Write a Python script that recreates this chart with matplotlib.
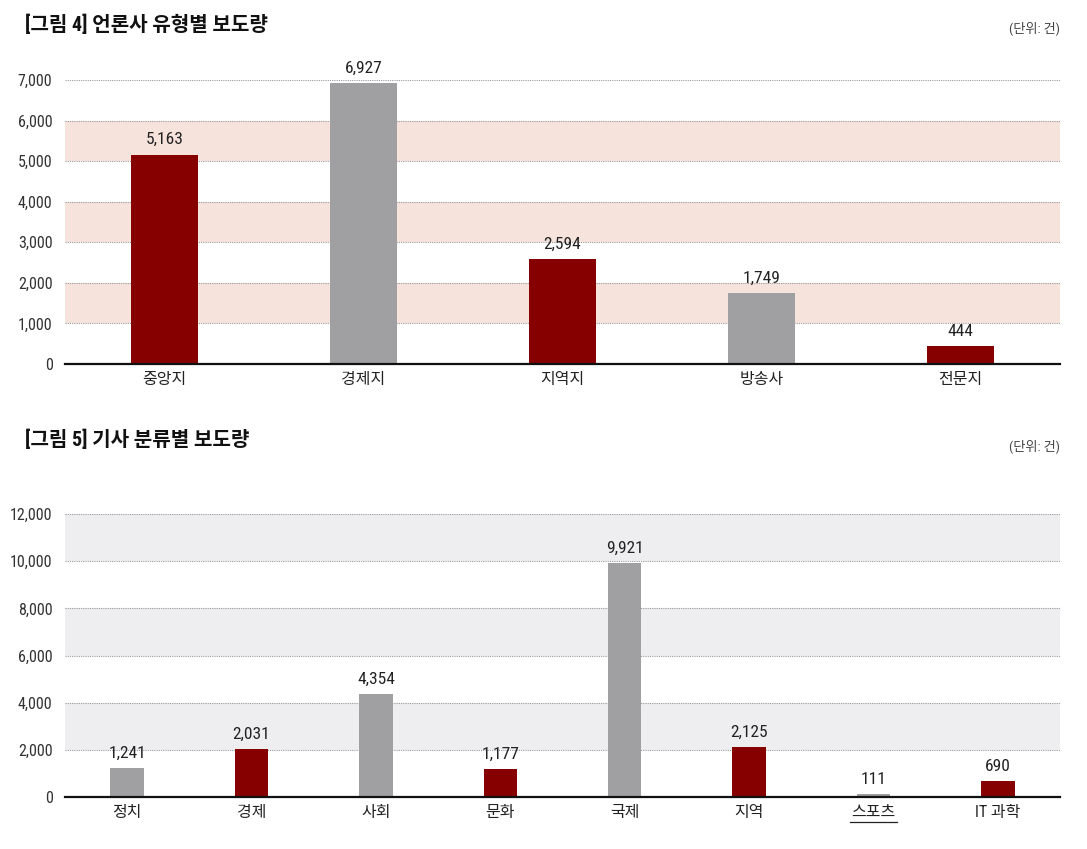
import matplotlib
matplotlib.use('Agg')
import matplotlib.pyplot as plt
from matplotlib import font_manager as fm
from matplotlib.ticker import FuncFormatter

names = set(f.name for f in fm.fontManager.ttflist)
num_font = [f for f in ['Liberation Sans Narrow', 'Roboto Condensed', 'Noto Sans CJK KR'] if f in names]
plt.rcParams['font.family'] = num_font + ['Noto Sans CJK KR', 'DejaVu Sans']

# data
media_types = ['중앙지', '경제지', '지역지', '방송사', '전문지']
media_counts = [5163, 6927, 2594, 1749, 444]
media_colors = ['red', 'gray', 'red', 'gray', 'red']

topics = ['정치', '경제', '사회', '문화', '국제', '지역', '스포츠', 'IT 과학']
topic_counts = [1241, 2031, 4354, 1177, 9921, 2125, 111, 690]
topic_colors = ['gray', 'red', 'gray', 'red', 'gray', 'red', 'gray', 'red']

RED = '#870000'
GRAY = '#a0a0a2'
cmap = {'red': RED, 'gray': GRAY}

fig = plt.figure(figsize=(10.87, 8.49), dpi=100)
W, H = 1087, 849

def style_axes(ax, ymax, step, bands, band_color):
    ax.set_ylim(0, ymax)
    for lo, hi in bands:
        ax.axhspan(lo, hi, color=band_color, zorder=0, lw=0)
    for v in range(step, ymax + 1, step):
        ax.axhline(v, color='#9a9a9a', lw=0.8, ls=(0, (1, 1)), zorder=1)
    for s in ['top', 'left', 'right']:
        ax.spines[s].set_visible(False)
    ax.spines['bottom'].set_linewidth(1.6)
    ax.spines['bottom'].set_color('#111111')
    ax.spines['bottom'].set_zorder(5)
    ax.set_yticks(range(0, ymax + 1, step))
    ax.yaxis.set_major_formatter(FuncFormatter(lambda v, p: f'{int(v):,}'))
    ax.tick_params(axis='y', length=0, pad=9, labelsize=11.5, labelcolor='#333333')
    ax.tick_params(axis='x', length=0, pad=6, labelsize=11.5, labelcolor='#222222')

# top chart
ax1 = fig.add_axes([65 / W, (H - 364) / H, 995 / W, 284 / H])
x1 = range(len(media_types))
ax1.bar(x1, media_counts, width=0.34, color=[cmap[c] for c in media_colors], zorder=3)
ax1.set_xlim(-0.5, len(media_types) - 0.5)
style_axes(ax1, 7000, 1000, [(1000, 2000), (3000, 4000), (5000, 6000)], '#f6e3dc')
ax1.set_xticks(list(x1))
ax1.set_xticklabels(media_types)
for i, v in enumerate(media_counts):
    ax1.text(i, v + 180, f'{v:,}', ha='center', va='bottom', fontsize=12.5,
             color='#222222', clip_on=False)

# bottom chart
ax2 = fig.add_axes([65 / W, (H - 797) / H, 995 / W, 283 / H])
x2 = range(len(topics))
ax2.bar(x2, topic_counts, width=0.27, color=[cmap[c] for c in topic_colors], zorder=3)
ax2.set_xlim(-0.5, len(topics) - 0.5)
style_axes(ax2, 12000, 2000, [(2000, 4000), (6000, 8000), (10000, 12000)], '#eeeef0')
ax2.set_xticks(list(x2))
ax2.set_xticklabels(topics)
for i, v in enumerate(topic_counts):
    ax2.text(i, v + 300, f'{v:,}', ha='center', va='bottom', fontsize=12.5,
             color='#222222', clip_on=False)
# underline under the sports label
k = topics.index('스포츠')
ax2.plot([k - 0.19, k + 0.19], [-0.09, -0.09], color='#222222', lw=0.9,
         transform=ax2.get_xaxis_transform(), clip_on=False)

# titles
fig.text(25 / W, 1 - 25 / H, '[그림 4] 언론사 유형별 보도량', fontsize=14.5,
         fontweight='bold', color='#111111', va='center', ha='left')
fig.text(1060 / W, 1 - 28 / H, '(단위: 건)', fontsize=9.5, color='#444444',
         va='center', ha='right')
fig.text(25 / W, 1 - 440 / H, '[그림 5] 기사 분류별 보도량', fontsize=14.5,
         fontweight='bold', color='#111111', va='center', ha='left')
fig.text(1060 / W, 1 - 446 / H, '(단위: 건)', fontsize=9.5, color='#444444',
         va='center', ha='right')

fig.savefig('out.png', dpi=100)
